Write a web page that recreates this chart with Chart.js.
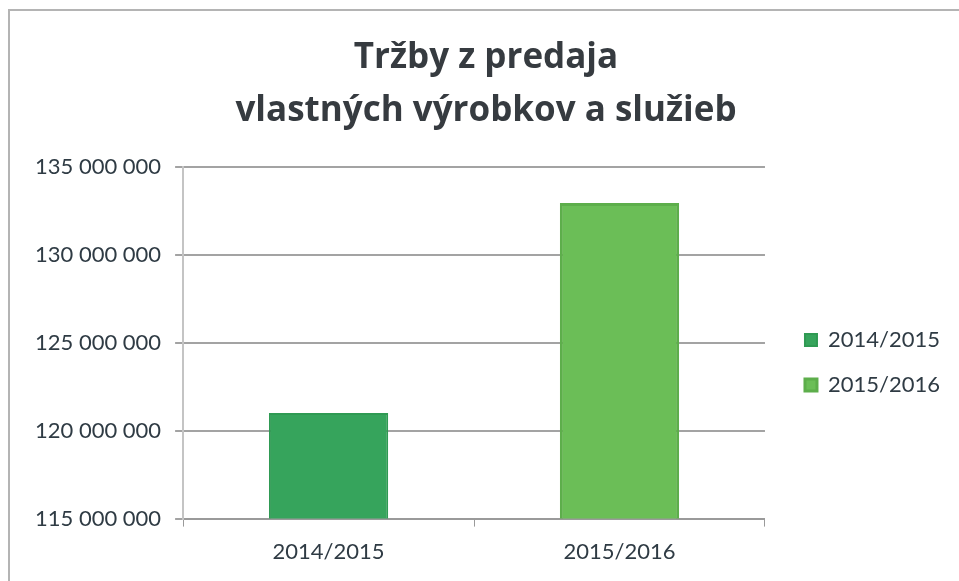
<!DOCTYPE html>
<html>
<head>
<meta charset="utf-8">
<script src="https://cdn.jsdelivr.net/npm/chart.js@4"></script>
<style>
  body { margin: 0; background: #fff; }
  #frame {
    position: absolute; left: 8px; top: 9px; width: 951px; height: 572px;
    border-left: 2px solid #b4b4b4; border-top: 2px solid #b4b4b4;
  }
  #wrap { position: absolute; left: 0; top: 0; width: 959px; height: 581px; }
</style>
</head>
<body>
<div id="frame"></div>
<div id="wrap"><canvas id="chart"></canvas></div>
<script>
// Kategórie a hodnoty odčítané z grafu
const categories = ['2014/2015', '2015/2016'];
const seriesNames = ['2014/2015', '2015/2016'];
const revenue = [121000000, 132950000];
const yTicks = [115000000, 120000000, 125000000, 130000000, 135000000];

const fills = ['#36a45c', '#6bbe57'];
const borders = ['#2f9a53', '#5dae4b'];

// každé obdobie ako samostatná séria (kvôli legende)
const datasets = seriesNames.map((name, i) => ({
    label: name,
    data: categories.map((c, j) => (j === i ? revenue[i] : null)),
    backgroundColor: fills[i],
    borderColor: borders[i],
    borderWidth: i === 0 ? 2 : 3
}));

const fmt = v => Math.round(v).toString().replace(/\B(?=(\d{3})+(?!\d))/g, ' ');

const textColor = '#2f3b44';

// posun legendy a nadpisu (ako v Exceli)
const boxShift = {
    id: 'boxShift',
    afterLayout(chart, args, opts) {
        const l = chart.legend;
        if (l) {
            l.left += opts.dx; l.right += opts.dx;
            l.top += opts.dy; l.bottom += opts.dy;
            l.adjustHitBoxes();
        }
        const t = chart.titleBlock;
        if (t) { t.left += opts.titleDx; t.right += opts.titleDx; }
    }
};

new Chart(document.getElementById('chart').getContext('2d'), {
    type: 'bar',
    data: { labels: categories, datasets: datasets },
    plugins: [boxShift],
    options: {
        responsive: true,
        maintainAspectRatio: false,
        animation: false,
        datasets: {
            bar: { grouped: false, categoryPercentage: 1, barPercentage: 0.41 }
        },
        layout: { padding: { left: 21, right: 26, top: 22, bottom: 4 } },
        plugins: {
            title: {
                display: true,
                text: ['Tržby z predaja', 'vlastných výrobkov a služieb'],
                color: '#363b40',
                font: { family: 'Open Sans', size: 35, weight: 'bold', lineHeight: 1.5 },
                padding: { top: 10, bottom: 30 }
            },
            legend: {
                position: 'right',
                labels: {
                    color: textColor,
                    font: { family: 'Lato', size: 22 },
                    boxWidth: 12,
                    boxHeight: 12,
                    padding: 23
                }
            },
            boxShift: { dx: 17, dy: 63, titleDx: 9 },
            tooltip: { enabled: false }
        },
        scales: {
            x: {
                grid: { drawOnChartArea: false, drawTicks: true, tickLength: 8, color: '#9a9a9a', offset: true },
                border: { color: '#9a9a9a', width: 2 },
                ticks: { color: textColor, font: { family: 'Lato', size: 22 }, padding: 12 }
            },
            y: {
                min: yTicks[0],
                max: yTicks[yTicks.length - 1],
                afterBuildTicks: axis => { axis.ticks = yTicks.map(v => ({ value: v })); },
                grid: { color: '#a3a3a3', lineWidth: 2, tickLength: 8 },
                border: { color: '#c4c4c4', width: 2 },
                ticks: {
                    color: textColor,
                    font: { family: 'Lato', size: 22 },
                    padding: 14,
                    callback: v => fmt(v)
                }
            }
        }
    }
});
</script>
</body>
</html>
